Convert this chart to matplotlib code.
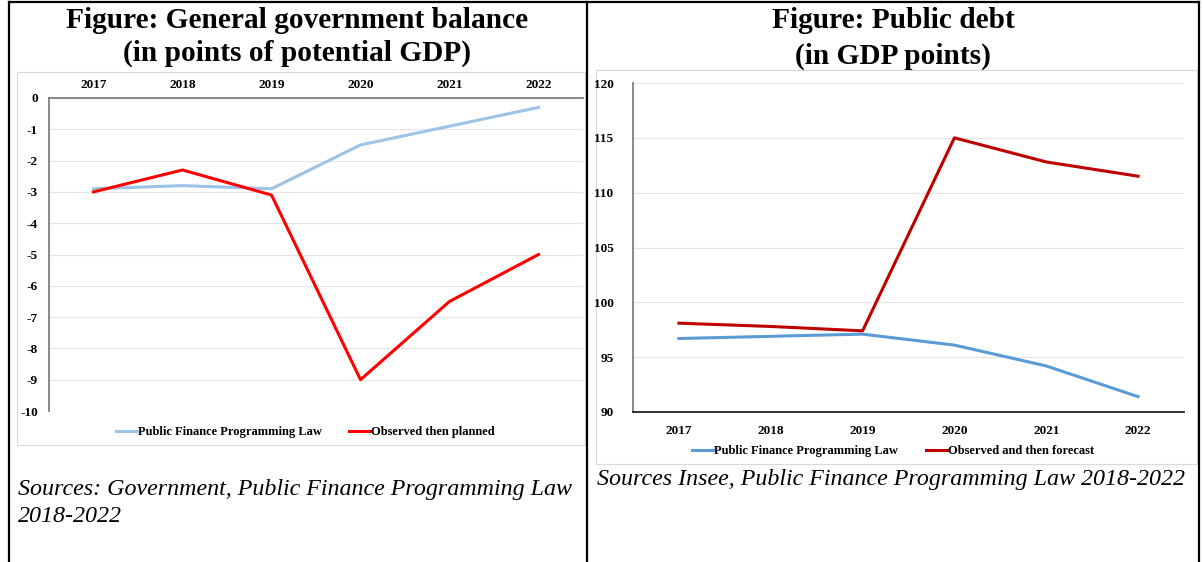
import matplotlib
matplotlib.use("Agg")
import matplotlib.pyplot as plt
from matplotlib.lines import Line2D

plt.rcParams['font.family'] = ['Liberation Serif', 'DejaVu Serif']

years = ['2017', '2018', '2019', '2020', '2021', '2022']

# general government balance, points of potential GDP
balance_law = [-2.9, -2.8, -2.9, -1.5, -0.9, -0.3]
balance_observed = [-3.0, -2.3, -3.1, -9.0, -6.5, -5.0]

# public debt, GDP points
debt_law = [96.7, 96.9, 97.1, 96.1, 94.2, 91.4]
debt_observed = [98.1, 97.8, 97.4, 115.0, 112.8, 111.5]

W, H = 1203, 562
fig = plt.figure(figsize=(W / 100, H / 100), dpi=100)


def px_rect(x0, y0, x1, y1):
    # pixel box (top-left origin) -> figure fraction rect
    return [x0 / W, 1 - y1 / H, (x1 - x0) / W, (y1 - y0) / H]


def fx(x):
    return x / W


def fy(y):
    return 1 - y / H


# table cell borders
border = fig.add_axes([0, 0, 1, 1], zorder=-5)
border.set_xlim(0, W)
border.set_ylim(H, 0)
border.axis('off')
for x in (9, 587, 1199):
    border.plot([x, x], [2, H], color='black', lw=1.6)
border.plot([9, 1199], [2, 2], color='black', lw=1.6)

# light chart-area frames
border.add_patch(plt.Rectangle((17, 72), 568, 373, fill=False, ec='#D9D9D9', lw=0.8))
border.add_patch(plt.Rectangle((596, 70), 601, 394, fill=False, ec='#D9D9D9', lw=0.8))

title_kw = dict(ha='center', va='center', fontsize=21.2, fontweight='bold')
fig.text(fx(297), fy(21), 'Figure: General government balance', **title_kw)
fig.text(fx(297), fy(53), '(in points of potential GDP)', **title_kw)
fig.text(fx(893), fy(21), 'Figure: Public debt', **title_kw)
fig.text(fx(893), fy(56), '(in GDP points)', **title_kw)

src_kw = dict(ha='left', va='center', fontsize=17.3, style='italic')
fig.text(fx(18), fy(490), 'Sources: Government, Public Finance Programming Law', **src_kw)
fig.text(fx(18), fy(517), '2018-2022', **src_kw)
fig.text(fx(597), fy(480), 'Sources Insee, Public Finance Programming Law 2018-2022', **src_kw)

tick_font = dict(fontsize=9.5, fontweight='bold')
x = list(range(len(years)))

# left: balance
ax1 = fig.add_axes(px_rect(49, 98, 583, 411))
ax1.plot(x, balance_law, color='#9DC3E6', lw=2.2, solid_joinstyle='round')
ax1.plot(x, balance_observed, color='#FF0000', lw=2.2, solid_joinstyle='round')
ax1.set_xlim(-0.5, 5.5)
ax1.set_ylim(-10, 0)
ax1.set_yticks(range(-10, 1))
ax1.set_yticklabels([str(v) for v in range(-10, 1)], **tick_font)
ax1.xaxis.tick_top()
ax1.set_xticks(x)
ax1.set_xticklabels(years, **tick_font)
ax1.tick_params(length=0, pad=8)
ax1.tick_params(axis='x', pad=5)
ax1.grid(axis='y', color='#E4E4E4', lw=0.8)
ax1.set_axisbelow(True)
for s in ('right', 'bottom'):
    ax1.spines[s].set_visible(False)
ax1.spines['left'].set_color('#7F7F7F')
ax1.spines['left'].set_linewidth(1.3)
ax1.spines['top'].set_color('#7F7F7F')
ax1.spines['top'].set_linewidth(1.3)

leg_kw = dict(loc='center', ncol=2, frameon=False, handlelength=1.7, handletextpad=0.05,
              columnspacing=2.2, prop=dict(family='Liberation Serif', weight='bold', size=9))
ax1.legend([Line2D([], [], color='#9DC3E6', lw=2.2), Line2D([], [], color='#FF0000', lw=2.2)],
           ['Public Finance Programming Law', 'Observed then planned'],
           bbox_to_anchor=(fx(305), fy(432)), bbox_transform=fig.transFigure, **leg_kw)

# right: debt
ax2 = fig.add_axes(px_rect(633, 83, 1184, 412))
ax2.plot(x, debt_law, color='#5B9BD5', lw=2.2, solid_joinstyle='round')
ax2.plot(x, debt_observed, color='#C00000', lw=2.2, solid_joinstyle='round')
ax2.set_xlim(-0.5, 5.5)
ax2.set_ylim(90, 120)
ax2.set_yticks(range(90, 121, 5))
ax2.set_yticklabels([str(v) for v in range(90, 121, 5)], **tick_font)
ax2.set_xticks(x)
ax2.set_xticklabels(years, **tick_font)
ax2.tick_params(length=0, pad=14)
ax2.tick_params(axis='x', pad=9)
ax2.grid(axis='y', color='#E4E4E4', lw=0.8)
ax2.set_axisbelow(True)
for s in ('right', 'top'):
    ax2.spines[s].set_visible(False)
ax2.spines['left'].set_color('#7F7F7F')
ax2.spines['left'].set_linewidth(1.3)
ax2.spines['bottom'].set_color('#202020')
ax2.spines['bottom'].set_linewidth(1.3)

ax2.legend([Line2D([], [], color='#5B9BD5', lw=2.2), Line2D([], [], color='#C00000', lw=2.2)],
           ['Public Finance Programming Law', 'Observed and then forecast'],
           bbox_to_anchor=(fx(893), fy(451)), bbox_transform=fig.transFigure, **leg_kw)

fig.savefig('out.png', dpi=100)
